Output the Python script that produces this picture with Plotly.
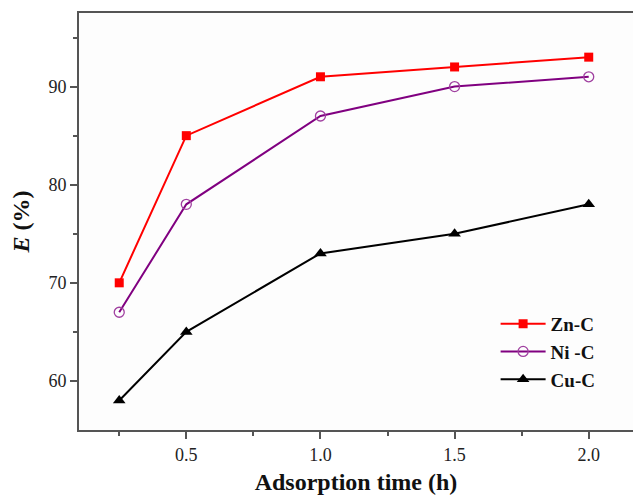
import plotly.graph_objects as go

time_h = [0.25, 0.5, 1.0, 1.5, 2.0]
zn_c = [70, 85, 91, 92, 93]
ni_c = [67, 78, 87, 90, 91]
cu_c = [58, 65, 73, 75, 78]

fig = go.Figure()
fig.add_trace(go.Scatter(x=time_h, y=zn_c, name="<b>Zn-C</b>", mode="lines+markers",
                         line=dict(color="#ff0000", width=2),
                         marker=dict(symbol="square", size=9, color="#ff0000")))
fig.add_trace(go.Scatter(x=time_h, y=ni_c, name="<b>Ni -C</b>", mode="lines+markers",
                         line=dict(color="#800080", width=2),
                         marker=dict(symbol="circle-open", size=10, color="#a040a0", line=dict(width=1.3))))
fig.add_trace(go.Scatter(x=time_h, y=cu_c, name="<b>Cu-C</b>", mode="lines+markers",
                         line=dict(color="#000000", width=2),
                         marker=dict(symbol="triangle-up", size=11, color="#000000")))

axis_common = dict(showgrid=False, zeroline=False, showline=True, linecolor="#555555", linewidth=2,
                   ticks="outside", ticklen=7, tickwidth=1.5, tickcolor="#555555",
                   tickfont=dict(family="Liberation Serif", size=18, color="#222222"))

fig.update_xaxes(range=[0.1, 2.165], tickvals=[0.5, 1.0, 1.5, 2.0], ticktext=["0.5", "1.0", "1.5", "2.0"],
                 minor=dict(tickvals=[0.25, 0.75, 1.25, 1.75], ticks="outside", ticklen=4, tickcolor="#555555"),
                 mirror=True,
                 title=dict(text="<b>Adsorption time (h)</b>", font=dict(family="Liberation Serif", size=24, color="#111111"), standoff=10),
                 **axis_common)
fig.update_yaxes(range=[55, 97.5], tickvals=[60, 70, 80, 90],
                 minor=dict(tickvals=[65, 75, 85, 95], ticks="outside", ticklen=4, tickcolor="#555555"),
                 title=dict(text="<b><i>E</i> (%)</b>", font=dict(family="Liberation Serif", size=24, color="#111111"), standoff=12),
                 **axis_common)

fig.update_layout(
    width=633, height=497,
    margin=dict(l=79, r=0, t=13, b=67),
    plot_bgcolor="#fdfdfd", paper_bgcolor="#ffffff",
    showlegend=True,
    legend=dict(x=0.752, y=0.300, xanchor="left", yanchor="top", bgcolor="rgba(0,0,0,0)",
                font=dict(family="Liberation Serif", size=19, color="#111111"),
                tracegroupgap=0, itemwidth=45),
)

fig.write_html("out.html")
